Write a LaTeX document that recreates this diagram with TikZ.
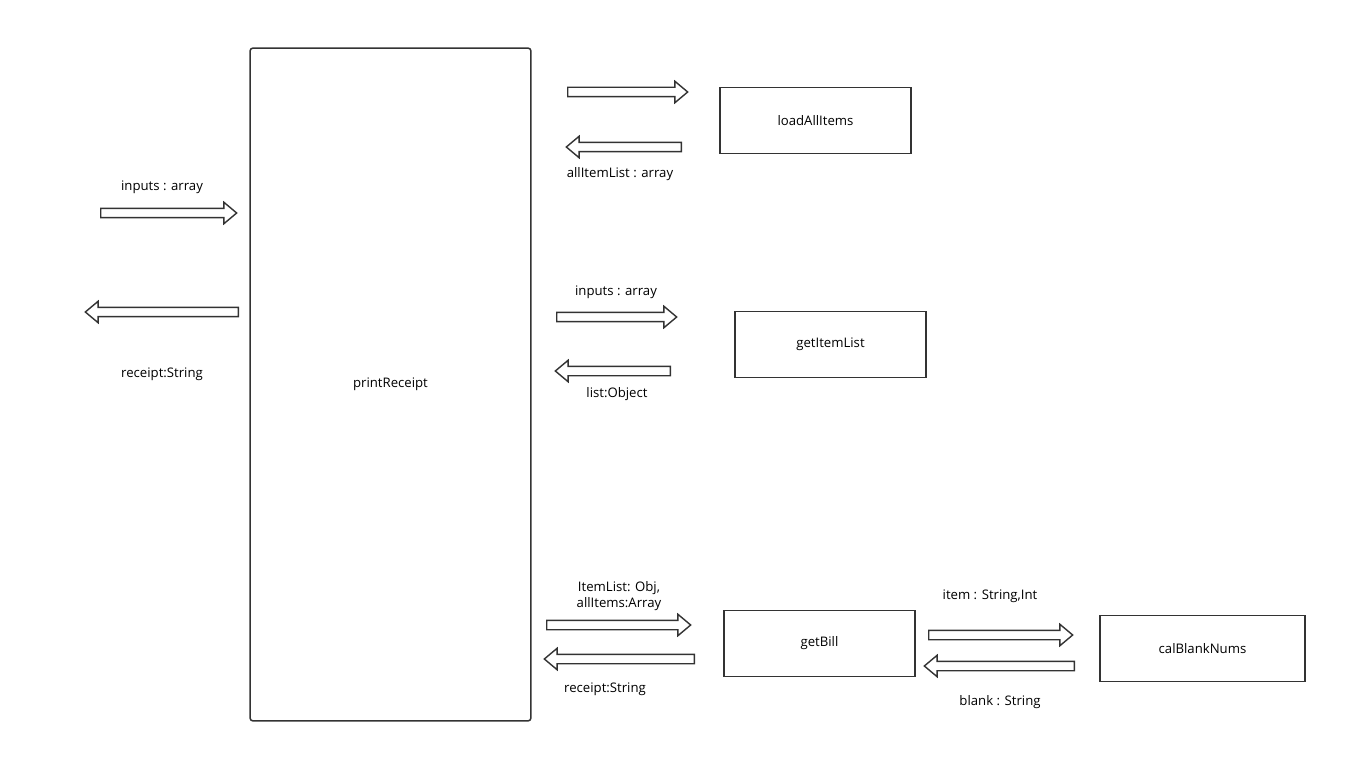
\documentclass[tikz,border=0pt]{standalone}
\usepackage{fontspec}
\setmainfont{Open Sans}
\usepackage{tikz}
\usetikzlibrary{positioning, shapes.arrows}

\begin{document}
\begin{tikzpicture}[x=0.02cm, y=-0.02cm,
    font=\fontsize{7.5}{9}\selectfont,
    box/.style={draw=black!80, line width=0.85pt, minimum width=3.82cm, minimum height=1.32cm},
    fat/.style={single arrow, draw=black!80, line width=0.8pt, inner sep=0.08cm, anchor=tail,
        minimum width=0.4cm, single arrow head extend=0.12cm, single arrow tip angle=80},
    fatleft/.style={fat, shape border rotate=180},
    lbl/.style={inner sep=0pt, align=center}]
    \useasboundingbox (0,0) rectangle (1367,784);

    % main function
    \node[draw=black!80, line width=0.85pt, rounded corners=0.06cm,
          minimum width=5.62cm, minimum height=13.46cm] (print) at (390.5,384.5) {printReceipt};
    \node[fat, minimum height=2.72cm] (inArr) at (100,213) {};
    \node[lbl] (inLbl) at (162,187) {inputs : array};
    \node[fatleft, minimum height=3.06cm] (outArr) at (239,312) {};
    \node[lbl] (outLbl) at (162,374) {receipt:String};

    % loadAllItems
    \node[box] (load) at (815.5,120.5) {loadAllItems};
    \node[fat, minimum height=2.4cm] (loadIn) at (567,92) {};
    \node[fatleft, minimum height=2.3cm] (loadOut) at (682,147) {};
    \node[lbl] (loadLbl) at (620,174) {allItemList : array};

    % getItemList
    \node[box] (list) at (830.5,344.5) {getItemList};
    \node[lbl] (listInLbl) at (616,292) {inputs : array};
    \node[fat, minimum height=2.4cm] (listIn) at (556,317) {};
    \node[fatleft, minimum height=2.3cm] (listOut) at (671,371) {};
    \node[lbl] (listOutLbl) at (617,394) {list:Object};

    % getBill
    \node[box] (bill) at (819.5,643.5) {getBill};
    \node[lbl] (billInLbl) at (619,596) {ItemList: Obj,\\allItems:Array};
    \node[fat, minimum height=2.88cm] (billIn) at (546,625) {};
    \node[fatleft, minimum height=3.0cm] (billOut) at (695,659) {};
    \node[lbl] (billOutLbl) at (605,689) {receipt:String};

    % calBlankNums
    \node[box, minimum width=4.1cm] (blank) at (1202.5,648.5) {calBlankNums};
    \node[lbl] (blankInLbl) at (990,596) {item : String,Int};
    \node[fat, minimum height=2.88cm] (blankIn) at (928,635) {};
    \node[fatleft, minimum height=3.0cm] (blankOut) at (1075,666) {};
    \node[lbl] (blankOutLbl) at (1000,702) {blank : String};
\end{tikzpicture}
\end{document}
